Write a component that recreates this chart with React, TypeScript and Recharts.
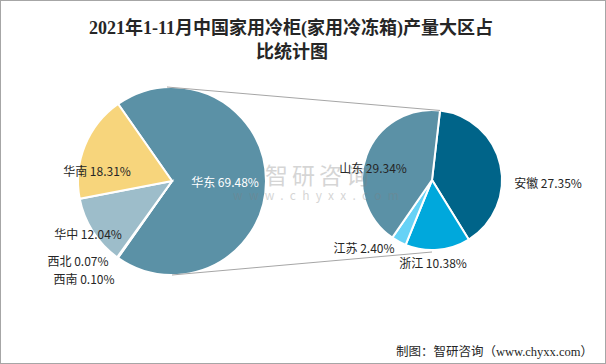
import React from "react";
import { PieChart, Pie, Cell } from "recharts";

// 大区占比（左饼）
const regionNames = ["华东", "西南", "西北", "华中", "华南"];
const regionValues = [69.48, 0.1, 0.07, 12.04, 18.31];
const regionColors = ["#5b91a6", "#5b91a6", "#5b91a6", "#9dbdca", "#f7d57c"];

// 华东内部省份（右饼）
const provinceNames = ["安徽", "浙江", "江苏", "山东"];
const provinceValues = [27.35, 10.38, 2.4, 29.34];
const provinceColors = ["#006489", "#00a8dc", "#66d2f6", "#5b91a6"];

const regionData = regionNames.map((name, i) => ({ name, value: regionValues[i] }));
const provinceData = provinceNames.map((name, i) => ({ name, value: provinceValues[i] }));

const W = 606;
const H = 364;
const L = { cx: 172, cy: 181, r: 94 };
const R = { cx: 432, cy: 180, r: 70 };
const RADIAN = Math.PI / 180;
const labelFont = "'Noto Sans CJK SC', 'Noto Sans', sans-serif";

// 标签相对饼心的位置（Excel 最佳位置）
const labelOffset: Record<string, [number, number]> = {
  华东: [53, 0],
  华南: [-75, -11],
  华中: [-84, 52],
  西北: [-94, 79],
  西南: [-88, 97],
  山东: [-59, -13],
  安徽: [116, 2],
  浙江: [1, 82],
  江苏: [-68, 67],
};

const renderLabel = (props: any) => {
  const name = props.name ?? props.payload?.name;
  const value = props.value ?? props.payload?.value;
  const off = labelOffset[name];
  let x: number, y: number;
  if (off) {
    x = props.cx + off[0];
    y = props.cy + off[1];
  } else {
    const rr = props.outerRadius * 0.6;
    x = props.cx + rr * Math.cos(-props.midAngle * RADIAN);
    y = props.cy + rr * Math.sin(-props.midAngle * RADIAN);
  }
  return (
    <text
      x={x}
      y={y}
      textAnchor="middle"
      dominantBaseline="central"
      fontSize={12}
      fontFamily={labelFont}
      fill={name === "华东" ? "#ffffff" : "#262626"}
    >
      {`${name} ${Number(value).toFixed(2)}%`}
    </text>
  );
};

export default function App() {
  // 右饼起始角：安徽从顶部略偏右开始
  const rStart = 83.4;
  const rTopX = R.cx + R.r * Math.cos(-rStart * RADIAN);
  const rTopY = R.cy + R.r * Math.sin(-rStart * RADIAN);

  return (
    <div style={{ position: "absolute", left: 0, top: 0, width: W, height: H, background: "#fff" }}>
      <PieChart width={W} height={H} margin={{ top: 0, right: 0, bottom: 0, left: 0 }}>
        <Pie
          data={regionData}
          dataKey="value"
          nameKey="name"
          cx={L.cx}
          cy={L.cy}
          outerRadius={L.r}
          startAngle={125}
          endAngle={-235}
          stroke="#ffffff"
          strokeWidth={2}
          label={renderLabel}
          labelLine={false}
          isAnimationActive={false}
        >
          {regionData.map((d, i) => (
            <Cell key={d.name} fill={regionColors[i]} />
          ))}
        </Pie>
        <Pie
          data={provinceData}
          dataKey="value"
          nameKey="name"
          cx={R.cx}
          cy={R.cy}
          outerRadius={R.r}
          startAngle={rStart}
          endAngle={rStart - 360}
          stroke="#ffffff"
          strokeWidth={2}
          label={renderLabel}
          labelLine={false}
          isAnimationActive={false}
        >
          {provinceData.map((d, i) => (
            <Cell key={d.name} fill={provinceColors[i]} />
          ))}
        </Pie>
      </PieChart>

      <svg
        width={W}
        height={H}
        style={{ position: "absolute", left: 0, top: 0, pointerEvents: "none" }}
      >
        {/* 连接线 */}
        <line x1={L.cx - 5} y1={L.cy - L.r} x2={rTopX} y2={rTopY} stroke="#a6a6a6" strokeWidth={1} />
        <line x1={L.cx} y1={L.cy + L.r} x2={R.cx} y2={R.cy + R.r + 2} stroke="#a6a6a6" strokeWidth={1} />

        {/* 水印 */}
        <g fill="#7f7f7f" opacity={0.32} fontFamily={labelFont}>
          <text x={265} y={174} fontSize={23} letterSpacing={4} dominantBaseline="central">
            智研咨询
          </text>
          <text x={233} y={194} fontSize={12} letterSpacing={6.3} dominantBaseline="central">
            www.chyxx.com
          </text>
        </g>

        {/* 标题 */}
        <g
          fontFamily="'Liberation Serif', 'DejaVu Serif', 'Noto Sans CJK SC', serif"
          fontWeight="bold"
          fontSize={18}
          fill="#262626"
          textAnchor="middle"
        >
          <text x={291} y={28} dominantBaseline="central">
            2021年1-11月中国家用冷柜(家用冷冻箱)产量大区占
          </text>
          <text x={292} y={52} dominantBaseline="central">
            比统计图
          </text>
        </g>

        {/* 来源 */}
        <text
          x={593}
          y={352}
          textAnchor="end"
          dominantBaseline="central"
          fontSize={12.5}
          fontFamily="'Liberation Serif', 'Noto Sans CJK SC', serif"
          fill="#262626"
        >
          制图：智研咨询（www.chyxx.com）
        </text>

        <rect x={0.5} y={0.5} width={W - 1} height={H - 1} fill="none" stroke="#a6a6a6" strokeWidth={1} />
      </svg>
    </div>
  );
}
